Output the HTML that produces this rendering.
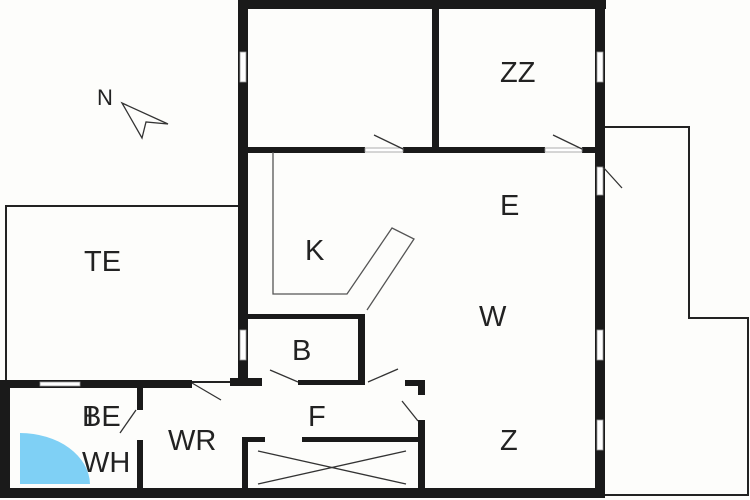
<!DOCTYPE html><html><head><style>body{margin:0;background:#fff}svg{display:block}text{font-family:"Liberation Sans",sans-serif;font-size:29px;fill:#222}</style></head><body>
<svg width="750" height="500" viewBox="0 0 750 500">
<rect width="750" height="500" fill="#fdfdfb"/>
<g fill="none" stroke="#222" stroke-width="2">
<rect x="6" y="206" width="233" height="176"/>
<polyline points="605,127 689,127 689,318 748,318 748,495 605,495"/>
</g>
<g fill="#1a1a1a">
<rect x="238" y="0" width="368" height="9"/>
<rect x="238" y="0" width="10" height="385"/>
<rect x="595" y="0" width="10" height="497"/>
<rect x="0" y="488" width="605" height="10"/>
<rect x="0" y="380" width="10" height="118"/>
<rect x="0" y="380" width="192" height="8"/>
<rect x="230" y="378" width="32" height="8"/>
<rect x="298" y="380" width="67" height="5"/>
<rect x="405" y="380" width="20" height="6"/>
<rect x="248" y="147" width="117" height="6"/>
<rect x="403" y="147" width="142" height="6"/>
<rect x="582" y="147" width="14" height="6"/>
<rect x="432" y="0" width="7" height="150"/>
<rect x="248" y="314" width="117" height="5"/>
<rect x="358" y="314" width="7" height="71"/>
<rect x="137" y="388" width="6" height="22"/>
<rect x="137" y="440" width="6" height="50"/>
<rect x="418" y="380" width="7" height="15"/>
<rect x="418" y="420" width="7" height="70"/>
<rect x="242" y="437" width="23" height="5"/>
<rect x="302" y="437" width="120" height="5"/>
<rect x="242" y="437" width="6" height="53"/>
</g>
<g fill="#fff" stroke="#999" stroke-width="0.8">
<rect x="240" y="52" width="6" height="30"/>
<rect x="597" y="52" width="6" height="30"/>
<rect x="597" y="167" width="6" height="28"/>
<rect x="597" y="330" width="6" height="30"/>
<rect x="597" y="420" width="6" height="30"/>
<rect x="240" y="330" width="6" height="30"/>
<rect x="40" y="382" width="40" height="4"/>
<rect x="365" y="148" width="38" height="4"/>
<rect x="545" y="148" width="37" height="4"/>
</g>
<g stroke="#333" stroke-width="1.3" fill="none">
<line x1="374" y1="135" x2="403" y2="149"/>
<line x1="553" y1="135" x2="582" y2="149"/>
<line x1="603" y1="167" x2="622" y2="188"/>
<line x1="192" y1="383" x2="221" y2="400"/>
<line x1="270" y1="370" x2="298" y2="382"/>
<line x1="368" y1="382" x2="398" y2="369"/>
<line x1="402" y1="401" x2="418" y2="421"/>
<line x1="120" y1="433" x2="136" y2="410"/>
<polyline points="273,152 273,294 347,294 392,228 414,239 367,310" stroke="#555"/>
<line x1="258" y1="451" x2="406" y2="484"/>
<line x1="258" y1="484" x2="406" y2="451"/>
<polygon points="122,103 168,124 146,122 142,138"/>
</g>
<path d="M20,433 A70,52 0 0 1 90,484 L20,484 Z" fill="#7fd0f5"/>
<text x="500" y="82">ZZ</text>
<text x="500" y="215">E</text>
<text x="305" y="260">K</text>
<text x="84" y="271">TE</text>
<text x="479" y="326">W</text>
<text x="292" y="360">B</text>
<text x="308" y="426">F</text>
<text x="168" y="450">WR</text>
<text x="500" y="450">Z</text>
<text x="82" y="426">BE</text>
<text x="86" y="426">I</text>
<text x="82" y="472">WH</text>
<text x="97" y="105" style="font-size:22px">N</text>
</svg>
</body></html>
